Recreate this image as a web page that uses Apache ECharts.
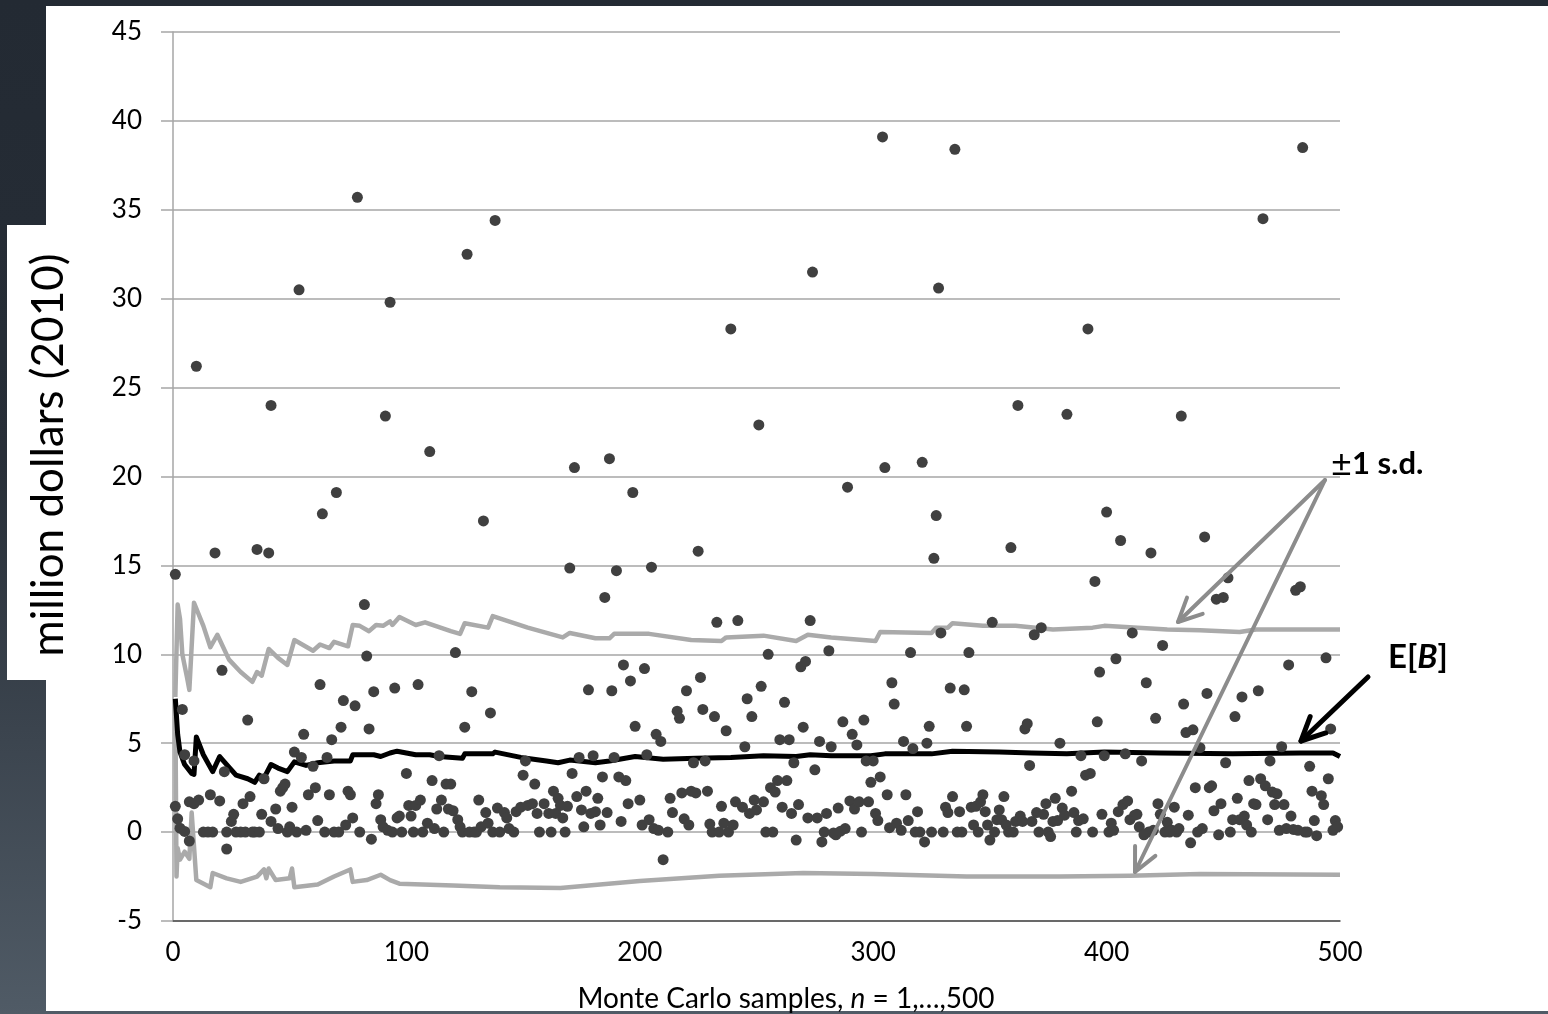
<!DOCTYPE html>
<html>
<head>
<meta charset="utf-8">
<script src="https://cdn.jsdelivr.net/npm/echarts@6/dist/echarts.min.js"></script>
<style>
  html, body { margin: 0; padding: 0; }
  body {
    width: 1548px; height: 1014px; overflow: hidden; position: relative;
    background: linear-gradient(to bottom, #232a33 0%, #272e37 45%, #505b66 100%);
  }
  .panel { position: absolute; background: #fff; }
  #chart { position: absolute; left: 0; top: 0; width: 1548px; height: 1014px; }
</style>
</head>
<body>
<div class="panel" style="left:46px; top:6px; width:1502px; height:1005px;"></div>
<div class="panel" style="left:7px; top:225px; width:40px; height:455px;"></div>
<div id="chart"></div>
<script>
// axis ticks
var xTicks = [0, 100, 200, 300, 400, 500];
var yTicks = [-5, 0, 5, 10, 15, 20, 25, 30, 35, 40, 45];

// Monte Carlo samples [n, B] (million dollars, 2010)
var samples = [
  [1,14.5],[1,1.45],[2,0.75],[3,0.22],[4,6.9],[5,0.04],[5,4.35],[7,-0.5],[7,1.7],[9,4.0],[9,1.6],[10,26.2],[11,1.8],[13,0],[15,0],[16,2.1],[17,0],[18,15.7],[20,1.75],[21,9.1],
  [22,3.4],[23,0],[23,-0.95],[25,0.6],[26,1.0],[27,0],[29,0],[30,1.6],[31,0],[32,6.3],[33,2.0],[34,0],[35,0],[36,15.9],[37,0],[38,1.0],[39,3.0],[41,15.7],[42,24.0],[42,0.6],
  [44,1.3],[45,0.2],[46,2.3],[47,2.5],[48,2.7],[49,0],[50,0.3],[51,1.4],[52,4.5],[53,0],[54,30.5],[55,4.2],[56,5.5],[57,0.1],[58,2.1],[60,3.7],[61,2.5],[62,0.65],[63,8.3],[64,17.9],
  [65,0],[66,4.2],[67,2.1],[68,5.2],[69,0],[70,19.1],[71,0],[72,5.9],[73,7.4],[74,0.4],[75,2.3],[76,2.1],[77,0.8],[78,7.1],[79,35.7],[80,0],[82,12.8],[83,9.9],[84,5.8],[85,-0.4],
  [86,7.9],[87,1.6],[88,2.1],[89,0.7],[90,0.3],[91,23.4],[92,0.1],[93,29.8],[94,0],[95,8.1],[96,0.8],[97,0.9],[98,0],[100,3.3],[101,1.5],[102,0.9],[103,0],[104,1.5],[105,8.3],[106,1.8],
  [107,0],[109,0.5],[110,21.4],[111,2.9],[112,0.2],[113,1.3],[114,4.3],[115,1.8],[116,0],[117,2.7],[118,1.3],[119,2.7],[120,1.2],[121,10.1],[122,0.7],[123,0.3],[124,0],[125,5.9],[126,32.5],[127,0],
  [128,7.9],[129,0],[130,0],[131,1.8],[132,0.3],[133,17.5],[134,1.1],[135,0.5],[136,6.7],[137,0],[138,34.4],[139,1.35],[140,0],[142,1.1],[143,0.8],[144,0.2],[146,0],[147,1.15],[149,1.4],[150,3.2],
  [151,4.0],[152,1.5],[154,1.6],[155,2.7],[156,1.05],[157,0],[159,1.6],[161,1.05],[162,0],[163,2.3],[164,1.05],[165,1.9],[166,1.5],[167,0.8],[168,0],[169,1.45],[170,14.85],[171,3.3],[172,20.5],[173,2.0],
  [174,4.2],[175,1.25],[176,0.3],[177,2.3],[178,8.0],[179,1.05],[180,4.3],[181,1.15],[182,1.9],[183,0.4],[184,3.1],[185,13.2],[186,1.1],[187,21.0],[188,7.95],[189,4.2],[190,14.7],[191,3.1],[192,0.6],[193,9.4],
  [194,2.9],[195,1.6],[196,8.5],[197,19.1],[198,5.95],[200,1.8],[201,0.4],[202,9.2],[203,4.35],[204,0.7],[205,14.9],[206,0.2],[207,5.5],[208,0.1],[209,5.1],[210,-1.55],[212,0],[213,1.9],[214,1.1],[216,6.8],
  [217,6.4],[218,2.2],[219,0.75],[220,7.95],[221,0.4],[222,2.3],[223,3.9],[224,2.2],[225,15.8],[226,8.7],[227,6.9],[228,4.0],[229,2.3],[230,0.45],[231,0],[232,6.5],[233,11.8],[234,0],[235,1.45],[236,0.5],
  [237,5.7],[238,0],[239,28.3],[240,0.4],[241,1.7],[242,11.9],[244,1.4],[245,4.8],[246,7.5],[247,1.05],[248,6.5],[249,1.8],[250,1.25],[251,22.9],[252,8.2],[253,1.7],[254,0],[255,10.0],[256,2.5],[257,0],
  [258,2.25],[259,2.9],[260,5.2],[261,1.4],[262,7.3],[263,2.9],[264,5.2],[265,1.05],[266,3.9],[267,-0.45],[268,1.55],[269,9.3],[270,5.9],[271,9.6],[272,0.8],[273,11.9],[274,31.5],[275,3.5],[276,0.8],[277,5.1],
  [278,-0.55],[279,0],[280,1.05],[281,10.2],[282,4.8],[283,-0.05],[284,-0.15],[285,1.35],[286,0.05],[287,6.2],[288,0.2],[289,19.4],[290,1.75],[291,5.5],[292,1.3],[293,4.9],[294,1.7],[295,0],[296,6.3],[297,4.0],
  [298,1.7],[299,2.8],[300,4.0],[301,1.05],[302,0.65],[303,3.1],[304,39.1],[305,20.5],[306,2.1],[307,0.25],[308,8.4],[309,7.2],[310,0.5],[312,0.1],[313,5.1],[314,2.1],[315,0.65],[316,10.1],[317,4.7],[318,0],
  [319,1.15],[320,0],[321,20.8],[322,-0.55],[323,5.0],[324,5.95],[325,0],[326,15.4],[327,17.8],[328,30.6],[329,11.2],[330,0],[331,1.4],[332,1.1],[333,8.1],[334,2.0],[335,38.4],[336,0],[337,1.15],[338,0],
  [339,8.0],[340,5.95],[341,10.1],[342,1.4],[343,0.4],[344,1.45],[345,0],[346,1.7],[347,2.1],[348,1.15],[349,0.4],[350,-0.45],[351,11.8],[352,0],[353,0.7],[354,1.25],[355,0.7],[356,2.0],[357,0.4],[358,0],
  [359,16.0],[360,0],[361,0.6],[362,24.0],[363,0.9],[364,0.6],[365,5.8],[366,6.1],[367,3.75],[368,0.6],[369,11.1],[370,1.1],[371,0],[372,11.5],[373,1.0],[374,1.6],[375,0],[376,-0.25],[377,0.6],[378,1.9],
  [379,0.65],[380,5.0],[381,1.35],[382,0.95],[383,23.5],[385,2.3],[386,1.1],[387,0],[388,0.65],[389,4.3],[390,0.75],[391,3.2],[392,28.3],[393,3.3],[394,0],[395,14.1],[396,6.2],[397,9.0],[398,1.0],[399,4.3],
  [400,18.0],[401,0],[402,0.5],[403,0.1],[404,9.75],[405,1.15],[406,16.4],[407,1.55],[408,4.4],[409,1.75],[410,0.7],[411,11.2],[412,0.95],[413,1.0],[414,0.3],[415,4.0],[416,-0.15],[417,8.4],[418,0],[419,15.7],
  [420,0.1],[421,6.4],[422,1.6],[423,1.0],[424,10.5],[425,0],[426,0.55],[427,0],[428,0.1],[429,1.4],[430,0],[431,0.2],[432,23.4],[433,7.2],[434,5.6],[435,0.95],[436,-0.6],[437,5.75],[438,2.5],[439,0],
  [440,4.75],[441,0.2],[442,16.6],[443,7.8],[444,2.5],[445,2.6],[446,1.2],[447,13.1],[448,-0.15],[449,1.6],[450,13.2],[451,3.9],[452,14.3],[453,0],[454,0.7],[455,6.5],[456,1.9],[457,0.7],[458,7.6],[459,0.9],
  [460,0.4],[461,2.9],[462,0],[463,1.6],[464,1.55],[465,7.95],[466,3.0],[467,34.5],[468,2.6],[469,0.7],[470,4.0],[471,2.25],[472,1.55],[473,2.15],[474,0.1],[475,4.8],[476,1.55],[477,0.2],[478,9.4],[479,0.9],
  [480,0.15],[481,13.6],[482,0.1],[483,13.8],[484,38.5],[485,0],[486,0],[487,3.7],[488,2.3],[489,0.65],[490,-0.2],[492,2.05],[493,1.55],[494,9.8],[495,3.0],[496,5.8],[497,0.1],[498,0.65],[499,0.3]
];

// running mean E[B]
var meanLine = [
  [1,7.5],[2,5.5],[3,4.5],[5,3.8],[8,3.3],[9,3.25],[10,5.35],[13,4.35],[17,3.4],[20,4.25],[23,3.8],[27,3.2],[32,3.0],[35,2.8],[37,3.2],[39,3.05],[42,3.8],[45,3.6],[49,3.4],[52,3.95],
  [57,3.75],[62,3.9],[69,4.0],[76,4.0],[77,4.35],[86,4.35],[89,4.25],[93,4.45],[96,4.55],[104,4.35],[110,4.35],[114,4.25],[124,4.15],[125,4.4],[137,4.4],[138,4.5],[149,4.2],[160,4.0],[165,3.9],[170,4.05],
  [181,3.9],[187,4.0],[198,4.25],[210,4.1],[224,4.15],[239,4.2],[253,4.3],[267,4.25],[273,4.35],[282,4.3],[299,4.3],[305,4.4],[325,4.4],[334,4.55],[354,4.5],[368,4.45],[383,4.4],[399,4.5],[423,4.45],[454,4.4],
  [483,4.45],[497,4.45],[500,4.25]
];

// mean + 1 s.d.
var upperLine = [
  [1,7.6],[2,12.8],[3,12.0],[4,10.0],[6,8.7],[7,8.0],[9,12.9],[13,11.6],[16,10.4],[19,11.1],[24,9.7],[29,9.0],[34,8.45],[36,9.0],[38,8.8],[41,10.3],[45,9.8],[49,9.4],[52,10.8],[60,10.2],
  [63,10.55],[67,10.35],[69,10.7],[75,10.45],[77,11.65],[80,11.6],[84,11.3],[87,11.65],[90,11.6],[93,11.85],[94,11.65],[97,12.1],[104,11.65],[108,11.8],[119,11.3],[123,11.15],[125,11.75],[135,11.5],[137,12.15],[152,11.5],
  [167,10.95],[170,11.2],[181,10.9],[187,10.9],[189,11.15],[204,11.15],[222,10.8],[235,10.75],[237,10.95],[253,11.05],[267,10.75],[272,11.1],[282,10.95],[301,10.75],[303,11.25],[325,11.2],[327,11.5],[332,11.5],[334,11.75],[347,11.6],
  [361,11.6],[377,11.4],[394,11.5],[399,11.6],[426,11.4],[440,11.35],[457,11.25],[464,11.4],[483,11.4],[500,11.4]
];

// mean - 1 s.d.
var lowerLine = [
  [1,7.4],[1.5,-2.5],[2,-0.9],[3,-1.55],[5,-1.1],[7,-1.5],[8,1.1],[10,-2.7],[16,-3.1],[17,-2.3],[23,-2.6],[29,-2.8],[36,-2.5],[39,-2.1],[40,-2.6],[41,-2.05],[44,-2.7],[50,-2.6],[51,-2.05],[52,-3.1],
  [62,-2.95],[69,-2.5],[76,-2.1],[77,-2.8],[83,-2.7],[89,-2.4],[93,-2.7],[97,-2.9],[120,-3.0],[140,-3.1],[166,-3.15],[200,-2.75],[234,-2.45],[270,-2.3],[300,-2.35],[340,-2.5],[380,-2.5],[410,-2.45],[440,-2.35],[500,-2.4]
];

var chart = echarts.init(document.getElementById('chart'), null, { renderer: 'canvas' });

function arrow(x1, y1, x2, y2, color, width, head) {
  var a = Math.atan2(y2 - y1, x2 - x1);
  var s = Math.PI / 7;
  var p1 = [x2 - head * Math.cos(a - s), y2 - head * Math.sin(a - s)];
  var p2 = [x2 - head * Math.cos(a + s), y2 - head * Math.sin(a + s)];
  var st = { stroke: color, lineWidth: width, lineCap: 'round', lineJoin: 'round', fill: null };
  return [
    { type: 'line', z: 100, shape: { x1: x1, y1: y1, x2: x2, y2: y2 }, style: st },
    { type: 'polyline', z: 100, shape: { points: [p1, [x2, y2], p2] }, style: st }
  ];
}

var font = 'Lato, "Liberation Sans", sans-serif';
var graphics = [
  {
    type: 'text', z: 100, x: 49, y: 455, rotation: Math.PI / 2,
    style: { text: 'million dollars (2010)', font: '44px ' + font, fill: '#000', textAlign: 'center', textVerticalAlign: 'middle' }
  },
  {
    type: 'text', z: 100, x: 786, y: 999,
    style: {
      text: '{r|Monte Carlo samples, }{i|n}{r| = 1,\u2026,500}',
      textAlign: 'center', textVerticalAlign: 'middle',
      rich: {
        r: { font: '28px ' + font, fill: '#000' },
        i: { font: 'italic 28px ' + font, fill: '#000' }
      }
    }
  },
  {
    type: 'text', z: 100, x: 1331, y: 464,
    style: {
      text: '{p|\u00b1}{b|1 s.d.}',
      textVerticalAlign: 'middle',
      rich: {
        p: { font: '36px ' + font, fill: '#000' },
        b: { font: 'bold 31px ' + font, fill: '#000' }
      }
    }
  },
  {
    type: 'text', z: 100, x: 1388, y: 657,
    style: {
      text: '{b|E[}{i|B}{b|]}',
      textVerticalAlign: 'middle',
      rich: {
        b: { font: 'bold 33px ' + font, fill: '#000' },
        i: { font: 'italic bold 33px ' + font, fill: '#000' }
      }
    }
  }
];
graphics = graphics.concat(arrow(1325, 480, 1178, 622, '#8c8c8c', 4, 26));
graphics = graphics.concat(arrow(1325, 480, 1135, 872, '#8c8c8c', 4, 26));
graphics = graphics.concat(arrow(1368, 677, 1301, 741, '#000', 5, 26));

var option = {
  animation: false,
  backgroundColor: 'transparent',
  grid: { left: 173, right: 208, top: 32, bottom: 93, containLabel: false },
  xAxis: {
    type: 'value', min: xTicks[0], max: xTicks[xTicks.length - 1], interval: 100,
    axisLine: { show: true, onZero: false, lineStyle: { color: '#4d4d4d', width: 1.5 } },
    axisTick: { show: false },
    splitLine: { show: false },
    axisLabel: { color: '#000', fontFamily: font, fontSize: 26, margin: 19 }
  },
  yAxis: {
    type: 'value', min: yTicks[0], max: yTicks[yTicks.length - 1], interval: 5,
    axisLine: { show: true, onZero: false, lineStyle: { color: '#a6a6a6', width: 1.5 } },
    axisTick: { show: true, length: 12, lineStyle: { color: '#a6a6a6', width: 1.5 } },
    splitLine: { show: true, lineStyle: { color: '#a6a6a6', width: 1.5 } },
    axisLabel: { color: '#000', fontFamily: font, fontSize: 26, margin: 31 }
  },
  series: [
    { type: 'line', data: upperLine, showSymbol: false, symbol: 'none', z: 2,
      lineStyle: { color: '#aaaaaa', width: 4.5, join: 'round' } },
    { type: 'line', data: lowerLine, showSymbol: false, symbol: 'none', z: 2,
      lineStyle: { color: '#aaaaaa', width: 4.5, join: 'round' } },
    { type: 'line', data: meanLine, showSymbol: false, symbol: 'none', z: 3,
      lineStyle: { color: '#000000', width: 5, join: 'round' } },
    { type: 'scatter', data: samples, symbol: 'circle', symbolSize: 11, z: 4,
      itemStyle: { color: '#404040', opacity: 1 } }
  ],
  graphic: graphics
};
chart.setOption(option);
</script>
</body>
</html>
